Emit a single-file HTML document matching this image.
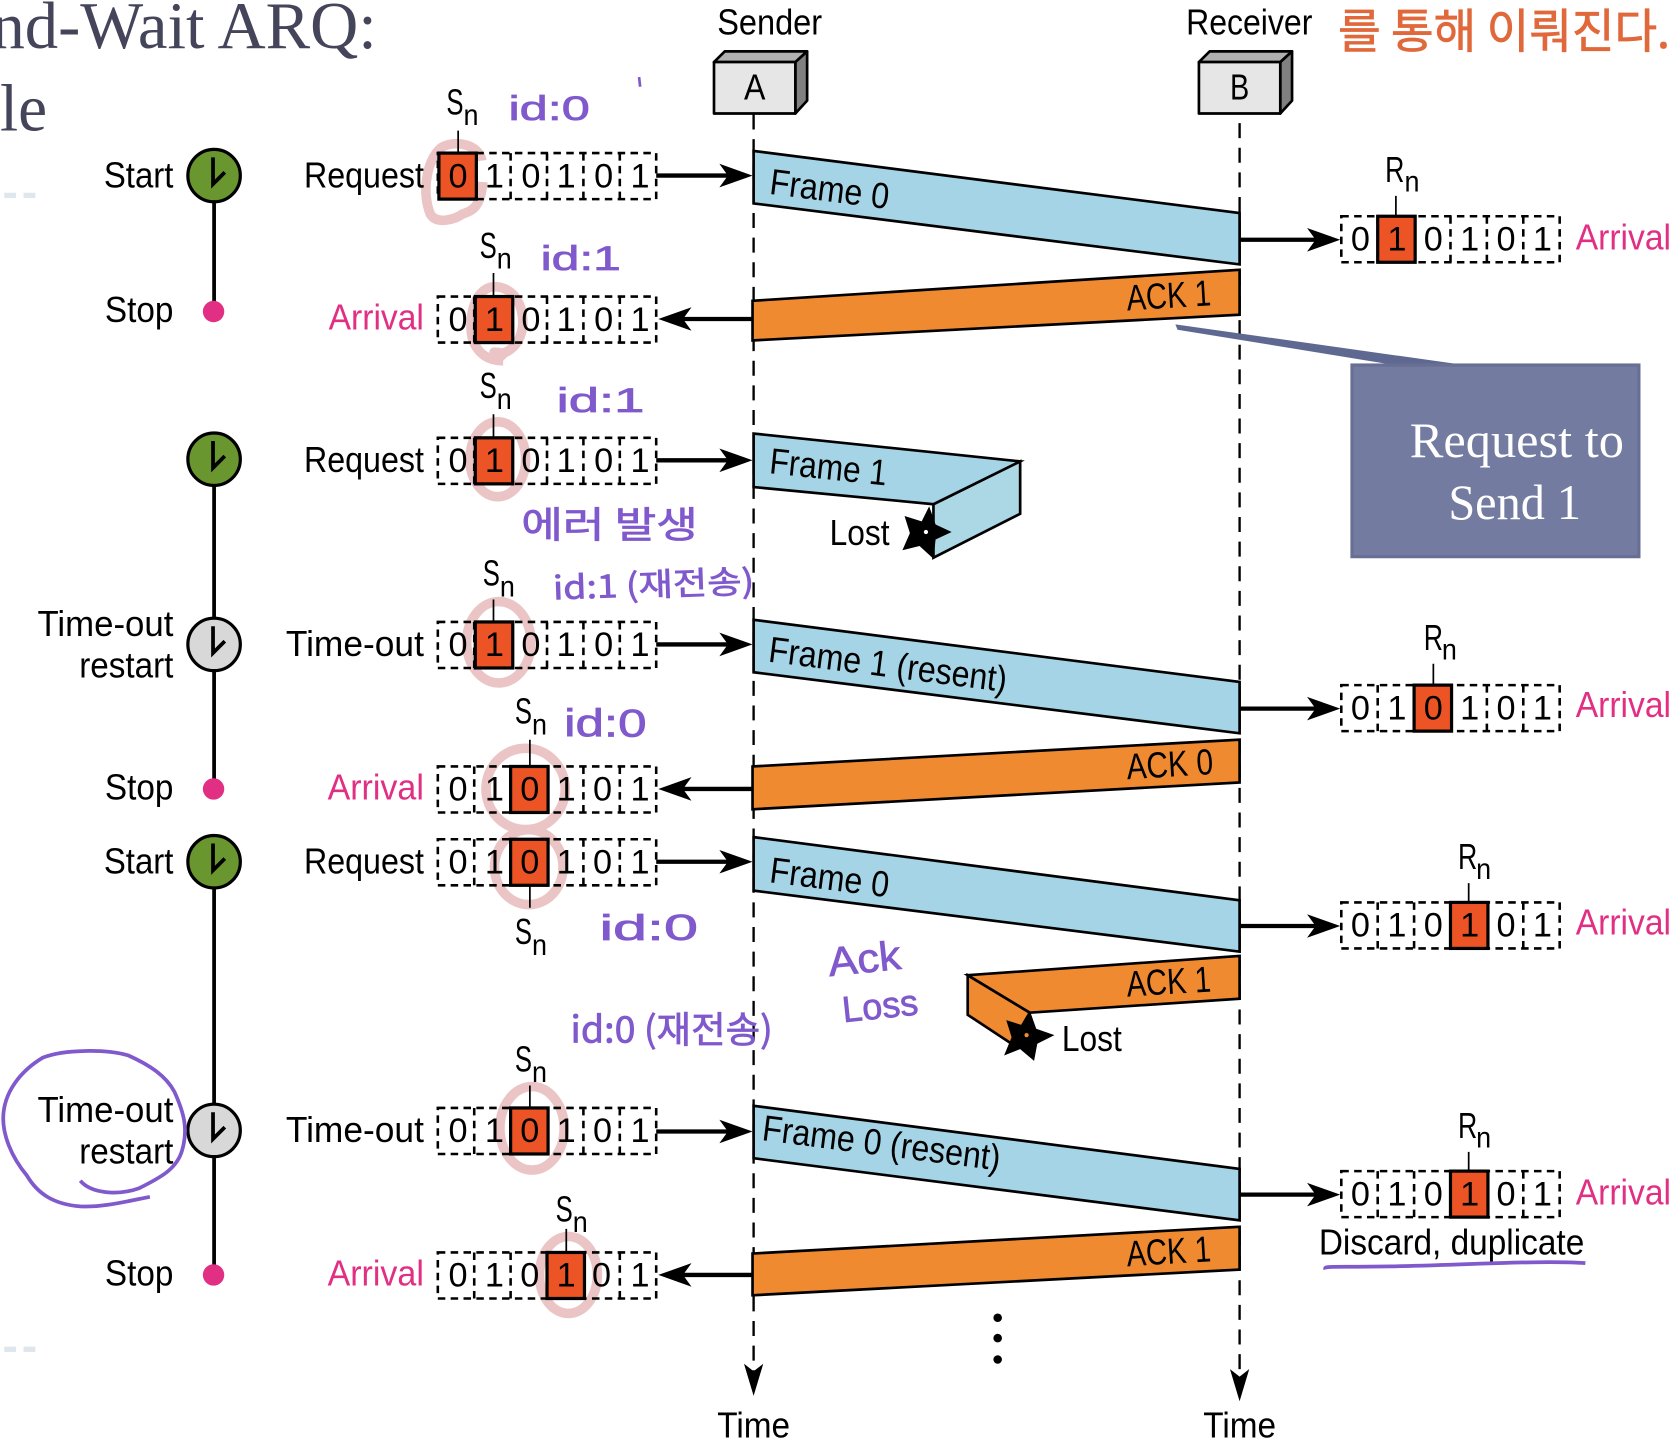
<!DOCTYPE html>
<html lang="en"><head><meta charset="utf-8"><title>Stop-and-Wait ARQ diagram</title>
<style>
html,body{margin:0;padding:0;background:#fff;width:1671px;height:1452px;overflow:hidden}
svg{display:block}
text{font-family:"Liberation Sans","Noto Sans CJK KR",sans-serif;font-size:34px;fill:#000}
.d{font-size:32px}
.p{fill:#e12f83}
.s{font-family:"Liberation Serif",serif}
.h{fill:#8059cc;stroke:#8059cc;stroke-width:.7;font-family:"Liberation Sans","Noto Sans CJK KR",sans-serif;font-size:32px}
.k{fill:#8059cc;stroke:#8059cc;stroke-width:.7;font-family:"Noto Sans CJK KR",sans-serif;font-size:30px}
.f{fill:#a4d4e5;stroke:#000;stroke-width:2.5;stroke-linejoin:miter}
.a{fill:#ef8a30;stroke:#000;stroke-width:2.5}
.b{fill:none;stroke:#000;stroke-width:2.4;stroke-dasharray:7 5}
.r{fill:#ec5425;stroke:#000;stroke-width:3}
.m{fill:none;stroke:#ebc5c5;stroke-width:9}
.t{stroke:#000;stroke-width:1.6}
.l{stroke:#000;stroke-width:4}
.w{stroke:#000;stroke-width:2.2;stroke-dasharray:14 9;fill:none}
</style></head><body>
<svg xmlns="http://www.w3.org/2000/svg" width="1671" height="1452" viewBox="0 0 1561 1356.4">
<rect width="1561" height="1357" fill="#fff"/>

<!-- slide remnants -->
<text class="s" x="-8" y="45" style="font-size:62px;fill:#44445a" textLength="360" lengthAdjust="spacingAndGlyphs">nd-Wait ARQ:</text>
<text class="s" x="0" y="122" style="font-size:62px;fill:#44445a" textLength="44" lengthAdjust="spacingAndGlyphs">le</text>
<path d="M4 180h11v5H4zM22 180h11v5H22zM4 1258h11v5H4zM22 1258h11v5H22z" fill="#dfe6ee"/>

<!-- pink highlighter -->
<path class="m" d="M450 150C448 135 425 130 412 138C398 150 394 180 402 200C408 210 425 205 432 200C440 197 449 195 451 170"/>
<path class="m" d="M465 268C448 266 440 285 440 305C440 325 452 337 470 337M470 337C462 328 456 328 470 330C484 325 490 310 488 295C486 280 478 270 465 268"/>
<ellipse class="m" cx="465" cy="429" rx="26" ry="35"/>
<ellipse class="m" cx="466" cy="600" rx="30" ry="38"/>
<ellipse class="m" cx="491" cy="737" rx="37" ry="38"/>
<ellipse class="m" cx="494" cy="810" rx="32" ry="35"/>
<ellipse class="m" cx="497" cy="1054" rx="30" ry="39"/>
<ellipse class="m" cx="531" cy="1191" rx="27" ry="36"/>

<!-- lifelines -->
<path class="w" d="M704 107V1290M1158 115V1295"/>
<path d="M704 1304l-9-30 9 7 9-7zM1158 1309l-9-30 9 7 9-7z"/>

<!-- boxes -->
<g stroke="#000" stroke-width="2.5" stroke-linejoin="round">
<path d="M667 58l10-10h77l-11 10z" fill="#b0b0b0"/><path d="M743 58l11-10v46l-11 12z" fill="#808080"/><rect x="667" y="58" width="76" height="48" fill="#e6e6e6"/>
<path d="M1120 58l10-10h77l-11 10z" fill="#b0b0b0"/><path d="M1196 58l11-10v46l-11 12z" fill="#808080"/><rect x="1120" y="58" width="76" height="48" fill="#e6e6e6"/>
</g>
<text x="695" y="93" textLength="20" lengthAdjust="spacingAndGlyphs">A</text>
<text x="1149" y="93" textLength="18" lengthAdjust="spacingAndGlyphs">B</text>
<text x="670" y="32" textLength="98" lengthAdjust="spacingAndGlyphs">Sender</text>
<text x="1108" y="32" textLength="118" lengthAdjust="spacingAndGlyphs">Receiver</text>
<text x="670" y="1343" textLength="68" lengthAdjust="spacingAndGlyphs">Time</text>
<text x="1124" y="1343" textLength="68" lengthAdjust="spacingAndGlyphs">Time</text>

<!-- timers -->
<path stroke="#000" stroke-width="3.5" d="M200 164V291M200 429V737M200 805V1190"/>
<g stroke="#000" stroke-width="3">
<circle cx="200" cy="164" r="24.5" fill="#6a962f"/><circle cx="200" cy="429" r="24.5" fill="#6a962f"/>
<circle cx="200" cy="602" r="24.5" fill="#d8d8d8"/><circle cx="200" cy="805" r="24.5" fill="#6a962f"/>
<circle cx="200" cy="1056" r="24.5" fill="#d8d8d8"/>
</g>
<g fill="none" stroke="#000" stroke-width="3.5">
<path d="M199 147V172L210 161"/><path d="M199 412V437L210 426"/><path d="M199 585V610L210 599"/><path d="M199 788V813L210 802"/><path d="M199 1039V1064L210 1053"/>
</g>
<g fill="#e12f83"><circle cx="199.500" cy="291" r="10"/><circle cx="199.500" cy="737" r="10"/><circle cx="199.500" cy="1191" r="10"/></g>

<!-- timer labels -->
<text x="97" y="175" textLength="65" lengthAdjust="spacingAndGlyphs">Start</text>
<text x="98" y="301" textLength="64" lengthAdjust="spacingAndGlyphs">Stop</text>
<text x="35" y="594" textLength="127" lengthAdjust="spacingAndGlyphs">Time-out</text>
<text x="74" y="633" textLength="88" lengthAdjust="spacingAndGlyphs">restart</text>
<text x="98" y="747" textLength="64" lengthAdjust="spacingAndGlyphs">Stop</text>
<text x="97" y="816" textLength="65" lengthAdjust="spacingAndGlyphs">Start</text>
<text x="35" y="1048" textLength="127" lengthAdjust="spacingAndGlyphs">Time-out</text>
<text x="74" y="1087" textLength="88" lengthAdjust="spacingAndGlyphs">restart</text>
<text x="98" y="1201" textLength="64" lengthAdjust="spacingAndGlyphs">Stop</text>

<!-- left event labels -->
<text x="284" y="175" textLength="112" lengthAdjust="spacingAndGlyphs">Request</text>
<text class="p" x="307" y="308" textLength="89" lengthAdjust="spacingAndGlyphs">Arrival</text>
<text x="284" y="441" textLength="112" lengthAdjust="spacingAndGlyphs">Request</text>
<text x="267" y="613" textLength="129" lengthAdjust="spacingAndGlyphs">Time-out</text>
<text class="p" x="306" y="747" textLength="90" lengthAdjust="spacingAndGlyphs">Arrival</text>
<text x="284" y="816" textLength="112" lengthAdjust="spacingAndGlyphs">Request</text>
<text x="267" y="1067" textLength="129" lengthAdjust="spacingAndGlyphs">Time-out</text>
<text class="p" x="306" y="1201" textLength="90" lengthAdjust="spacingAndGlyphs">Arrival</text>

<!-- left bit arrays -->
<path class="b" d="M409 143H613V186H409ZM443 143V186M477 143V186M511 143V186M545 143V186M579 143V186"/>
<rect class="r" x="410" y="143" width="35" height="43"/>
<text class="d" x="419 453 487 520 555 589" y="175">010101</text>
<path class="b" d="M409 277H613V320H409ZM443 277V320M477 277V320M511 277V320M545 277V320M579 277V320"/>
<rect class="r" x="444" y="277" width="35" height="43"/>
<text class="d" x="419 453 487 520 555 589" y="309">010101</text>
<path class="b" d="M409 409H613V452H409ZM443 409V452M477 409V452M511 409V452M545 409V452M579 409V452"/>
<rect class="r" x="444" y="409" width="35" height="43"/>
<text class="d" x="419 453 487 520 555 589" y="441">010101</text>
<path class="b" d="M409 581H613V624H409ZM443 581V624M477 581V624M511 581V624M545 581V624M579 581V624"/>
<rect class="r" x="444" y="581" width="35" height="43"/>
<text class="d" x="419 453 487 520 555 589" y="613">010101</text>
<path class="b" d="M409 716H613V759H409ZM443 716V759M477 716V759M511 716V759M545 716V759M579 716V759"/>
<rect class="r" x="477" y="716" width="35" height="43"/>
<text class="d" x="419 453 486 520 554 589" y="748">010101</text>
<path class="b" d="M409 784H613V827H409ZM443 784V827M477 784V827M511 784V827M545 784V827M579 784V827"/>
<rect class="r" x="477" y="784" width="35" height="43"/>
<text class="d" x="419 453 486 520 554 589" y="816">010101</text>
<path class="b" d="M409 1035H613V1078H409ZM443 1035V1078M477 1035V1078M511 1035V1078M545 1035V1078M579 1035V1078"/>
<rect class="r" x="477" y="1035" width="35" height="43"/>
<text class="d" x="419 453 486 520 554 589" y="1067">010101</text>
<path class="b" d="M409 1170H613V1213H409ZM443 1170V1213M477 1170V1213M511 1170V1213M545 1170V1213M579 1170V1213"/>
<rect class="r" x="511" y="1170" width="35" height="43"/>
<text class="d" x="419 453 486 520 553 589" y="1202">010101</text>

<!-- right bit arrays -->
<path class="b" d="M1253 202H1457V245H1253ZM1287 202V245M1321 202V245M1355 202V245M1389 202V245M1423 202V245"/>
<rect class="r" x="1287" y="202" width="35" height="43"/>
<text class="d" x="1262 1296 1330 1364 1398 1432" y="234">010101</text>
<path class="b" d="M1253 640H1457V683H1253ZM1287 640V683M1321 640V683M1355 640V683M1389 640V683M1423 640V683"/>
<rect class="r" x="1321" y="640" width="35" height="43"/>
<text class="d" x="1262 1296 1330 1364 1398 1432" y="672">010101</text>
<path class="b" d="M1253 843H1457V886H1253ZM1287 843V886M1321 843V886M1355 843V886M1389 843V886M1423 843V886"/>
<rect class="r" x="1355" y="843" width="35" height="43"/>
<text class="d" x="1262 1296 1330 1364 1398 1432" y="875">010101</text>
<path class="b" d="M1253 1094H1457V1137H1253ZM1287 1094V1137M1321 1094V1137M1355 1094V1137M1389 1094V1137M1423 1094V1137"/>
<rect class="r" x="1355" y="1094" width="35" height="43"/>
<text class="d" x="1262 1296 1330 1364 1398 1432" y="1126">010101</text>

<text class="p" x="1472" y="233" textLength="89" lengthAdjust="spacingAndGlyphs">Arrival</text>
<text class="p" x="1472" y="670" textLength="89" lengthAdjust="spacingAndGlyphs">Arrival</text>
<text class="p" x="1472" y="873" textLength="89" lengthAdjust="spacingAndGlyphs">Arrival</text>
<text class="p" x="1472" y="1125" textLength="89" lengthAdjust="spacingAndGlyphs">Arrival</text>
<text x="1232" y="1172" textLength="248" lengthAdjust="spacingAndGlyphs">Discard, duplicate</text>

<!-- Sn / Rn labels -->
<path class="t" d="M428 122V143M461 255V277M461 387V409M461 560V581M495 691V716M495 827V848M495 1014V1035M529 1148V1170M1304 183V202M1339 620V640M1372 825V843M1372 1076V1094"/>
<text x="417" y="107" textLength="16" lengthAdjust="spacingAndGlyphs">S</text><text x="433" y="117" style="font-size:28px" textLength="14" lengthAdjust="spacingAndGlyphs">n</text>
<text x="448" y="241" textLength="16" lengthAdjust="spacingAndGlyphs">S</text><text x="464" y="251" style="font-size:28px" textLength="14" lengthAdjust="spacingAndGlyphs">n</text>
<text x="448" y="372" textLength="16" lengthAdjust="spacingAndGlyphs">S</text><text x="464" y="382" style="font-size:28px" textLength="14" lengthAdjust="spacingAndGlyphs">n</text>
<text x="451" y="547" textLength="16" lengthAdjust="spacingAndGlyphs">S</text><text x="467" y="557" style="font-size:28px" textLength="14" lengthAdjust="spacingAndGlyphs">n</text>
<text x="481" y="676" textLength="16" lengthAdjust="spacingAndGlyphs">S</text><text x="497" y="686" style="font-size:28px" textLength="14" lengthAdjust="spacingAndGlyphs">n</text>
<text x="481" y="882" textLength="16" lengthAdjust="spacingAndGlyphs">S</text><text x="497" y="892" style="font-size:28px" textLength="14" lengthAdjust="spacingAndGlyphs">n</text>
<text x="481" y="1001" textLength="16" lengthAdjust="spacingAndGlyphs">S</text><text x="497" y="1011" style="font-size:28px" textLength="14" lengthAdjust="spacingAndGlyphs">n</text>
<text x="519" y="1141" textLength="16" lengthAdjust="spacingAndGlyphs">S</text><text x="535" y="1151" style="font-size:28px" textLength="14" lengthAdjust="spacingAndGlyphs">n</text>
<text x="1294" y="170" textLength="18" lengthAdjust="spacingAndGlyphs">R</text><text x="1312" y="179" style="font-size:28px" textLength="14" lengthAdjust="spacingAndGlyphs">n</text>
<text x="1330" y="607" textLength="18" lengthAdjust="spacingAndGlyphs">R</text><text x="1347" y="616" style="font-size:28px" textLength="14" lengthAdjust="spacingAndGlyphs">n</text>
<text x="1362" y="812" textLength="18" lengthAdjust="spacingAndGlyphs">R</text><text x="1379" y="821" style="font-size:28px" textLength="14" lengthAdjust="spacingAndGlyphs">n</text>
<text x="1362" y="1063" textLength="18" lengthAdjust="spacingAndGlyphs">R</text><text x="1379" y="1072" style="font-size:28px" textLength="14" lengthAdjust="spacingAndGlyphs">n</text>

<!-- arrows -->
<path class="l" d="M613 164H682M613 430H682M613 602H682M613 805H682M613 1057H682M1158 224H1232M1158 662H1232M1158 865H1232M1158 1116H1232M703 298H630M703 737H630M703 1191H630"/>
<path d="M703 164l-31-11 8 11-8 11zM703 430l-31-11 8 11-8 11zM703 602l-31-11 8 11-8 11zM703 805l-31-11 8 11-8 11zM703 1057l-31-11 8 11-8 11zM1252 224l-31-11 8 11-8 11zM1252 662l-31-11 8 11-8 11zM1252 865l-31-11 8 11-8 11zM1252 1116l-31-11 8 11-8 11zM615 298l31-11-8 11 8 11zM615 737l31-11-8 11 8 11zM615 1191l31-11-8 11 8 11z"/>

<!-- frames -->
<path class="f" d="M704 141L1158 199V247L704 190Z"/>
<text transform="translate(718 181) rotate(7.300)" textLength="112" lengthAdjust="spacingAndGlyphs">Frame 0</text>
<path class="a" d="M703 281L1158 252V294L703 318Z"/>
<text transform="translate(1053 290) rotate(-3.500)" textLength="79" lengthAdjust="spacingAndGlyphs">ACK 1</text>

<path class="f" style="fill:#acd8e6" d="M872 471L953 431V480L872 521Z"/>
<path class="f" d="M704 405L953 431L872 471L704 455Z"/>
<text transform="translate(718 442) rotate(6)" textLength="110" lengthAdjust="spacingAndGlyphs">Frame 1</text>
<text x="775" y="509" textLength="56" lengthAdjust="spacingAndGlyphs">Lost</text>
<path d="M868 473L874 490L889 497L874 504L872 522L859 510L843 514L850 498L845 482L861 487Z"/>
<circle cx="865" cy="497" r="2" fill="#fff"/>

<path class="f" d="M704 579L1158 637V685L704 628Z"/>
<text transform="translate(717 618) rotate(7.300)" textLength="224" lengthAdjust="spacingAndGlyphs">Frame 1 (resent)</text>
<path class="a" d="M703 716L1158 691V731L703 756Z"/>
<text transform="translate(1053 728) rotate(-3.500)" textLength="81" lengthAdjust="spacingAndGlyphs">ACK 0</text>

<path class="f" d="M704 782L1158 841V889L704 832Z"/>
<text transform="translate(718 824) rotate(7.300)" textLength="112" lengthAdjust="spacingAndGlyphs">Frame 0</text>

<path class="a" d="M904 911L962 946L945 975L904 948Z"/>
<path class="a" d="M904 911L1158 893V933L962 946Z"/>
<text transform="translate(1053 931) rotate(-3.500)" textLength="79" lengthAdjust="spacingAndGlyphs">ACK 1</text>
<text x="992" y="982" textLength="56" lengthAdjust="spacingAndGlyphs">Lost</text>
<path d="M962 944L968 961L985 967L969 975L966 991L953 980L938 986L945 969L940 953L956 958Z"/>
<circle cx="959" cy="967" r="2" fill="#ef8a30"/>

<path class="f" d="M704 1033L1158 1092V1140L704 1082Z"/>
<text transform="translate(711 1065) rotate(7.300)" textLength="224" lengthAdjust="spacingAndGlyphs">Frame 0 (resent)</text>
<path class="a" d="M703 1171L1158 1146V1186L703 1210Z"/>
<text transform="translate(1053 1183) rotate(-3.500)" textLength="79" lengthAdjust="spacingAndGlyphs">ACK 1</text>

<circle cx="932" cy="1231" r="4"/><circle cx="932" cy="1250" r="4"/><circle cx="932" cy="1270" r="4"/>

<!-- callout -->
<path d="M1098 303L1100 308L1315 343L1368 341Z" fill="#5f6890"/>
<rect x="1263" y="341" width="268" height="179" fill="#737ba0" stroke="#676f95" stroke-width="3"/>
<text class="s" x="1317" y="427" style="font-size:46px;fill:#fff" textLength="200" lengthAdjust="spacingAndGlyphs">Request to</text>
<text class="s" x="1353" y="485" style="font-size:46px;fill:#fff" textLength="124" lengthAdjust="spacingAndGlyphs">Send 1</text>

<!-- handwriting -->
<text class="h" x="475" y="112" textLength="76" lengthAdjust="spacingAndGlyphs">id:0</text>
<path d="M597 72l1 9" stroke="#8059cc" stroke-width="2.500"/>
<text class="h" x="505" y="252" textLength="75" lengthAdjust="spacingAndGlyphs">id:1</text>
<text class="h" x="520" y="385" textLength="82" lengthAdjust="spacingAndGlyphs">id:1</text>
<text class="k" x="487" y="502" textLength="165" lengthAdjust="spacingAndGlyphs" style="font-size:34px">에러 발생</text>
<text class="k" transform="rotate(-2 517 560)" x="517" y="560" textLength="188" lengthAdjust="spacingAndGlyphs" style="font-size:30px">id:1 (재전송)</text>
<text class="h" x="527" y="688" textLength="77" lengthAdjust="spacingAndGlyphs" style="font-size:36px">id:0</text>
<text class="h" x="560" y="878" textLength="92" lengthAdjust="spacingAndGlyphs" style="font-size:34px">id:0</text>
<text class="h" transform="rotate(-6 775 912)" x="775" y="912" textLength="68" lengthAdjust="spacingAndGlyphs" style="font-size:38px">Ack</text>
<text class="h" transform="rotate(-6 788 955)" x="788" y="955" textLength="71" lengthAdjust="spacingAndGlyphs" style="font-size:34px">Loss</text>
<text class="k" x="533" y="974" textLength="189" lengthAdjust="spacingAndGlyphs" style="font-size:34px">id:0 (재전송)</text>
<text class="k" x="1250" y="45" textLength="310" lengthAdjust="spacingAndGlyphs" style="fill:#e0683a;stroke:#e0683a;font-size:44px">를 통해 이뤄진다.</text>

<path d="M140 1118C115 1123 95 1128 75 1127C50 1125 35 1115 25 1098C10 1080 3 1060 3 1045C3 1020 20 1000 40 988C60 980 100 980 120 986C140 995 155 1005 163 1020C172 1040 176 1055 170 1075C165 1092 150 1100 130 1110C110 1117 85 1115 75 1103" fill="none" stroke="#8059cc" stroke-width="3.500"/>
<path d="M1238 1186C1237 1182 1240 1184 1300 1183C1360 1182 1440 1177 1481 1180" fill="none" stroke="#8059cc" stroke-width="3.500"/>
</svg>
</body></html>
